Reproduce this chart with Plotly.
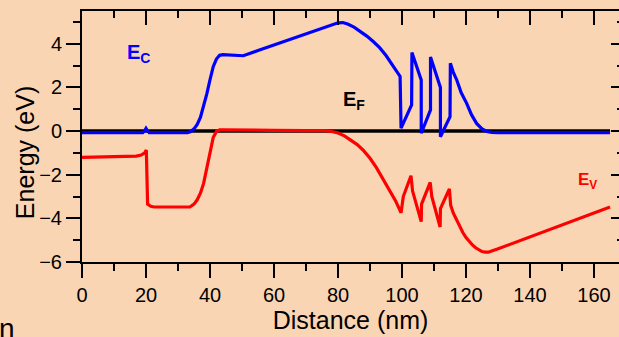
import plotly.graph_objects as go

# Conduction band E_C (nm, eV)
ec_x = [0, 19.0, 19.6, 20.0, 20.4, 21.0, 33.0, 34.0, 35.0, 36.0, 37.0, 38.0, 39.0, 40.0, 41.0, 42.0, 43.0, 44.0,
        50.0, 50.4, 55.0, 60.0, 65.0, 70.0, 75.0, 78.0, 80.0, 81.5, 83.0, 85.0, 87.0, 89.0, 91.0, 93.0, 95.0, 97.0,
        99.4, 99.7, 103.0, 103.1, 106.0, 106.0, 108.9, 108.9, 112.0, 112.0, 115.0, 115.1, 116.0, 117.1, 118.5,
        120.2, 121.7, 123.3, 125.0, 126.5, 128.0, 130.0, 165.0]
ec_y = [-0.07, -0.07, 0.02, 0.12, 0.02, -0.07, -0.07, -0.02, 0.1, 0.3, 0.62, 1.1, 1.7, 2.35, 2.95, 3.3, 3.47, 3.5,
        3.48, 3.45, 3.69, 3.95, 4.21, 4.47, 4.72, 4.88, 4.96, 4.97, 4.9, 4.76, 4.57, 4.35, 4.1, 3.82, 3.46, 3.05,
        2.5, 0.13, 1.2, 3.6, 2.34, -0.1, 0.97, 3.39, 2.0, -0.26, 0.66, 3.11, 2.7, 2.34, 1.75,
        1.27, 0.75, 0.35, 0.1, -0.02, -0.06, -0.07, -0.07]

# Valence band E_V (nm, eV)
ev_x = [0, 17.0, 18.5, 19.6, 20.1, 20.2, 20.5, 21.5, 22.5, 33.7, 35.0, 36.0, 37.0, 38.0, 39.0, 40.0, 41.0, 42.0,
        43.0, 44.0, 50.0, 60.0, 70.0, 76.0, 78.0, 80.0, 82.0, 84.0, 86.0, 88.0, 90.0, 92.0, 94.0, 96.0, 98.0,
        99.7, 100.4, 102.8, 103.3, 106.0, 106.1, 108.8, 109.3, 111.9, 112.0, 114.8, 115.2, 116.0, 117.0, 118.0,
        119.0, 120.0, 121.0, 122.0, 123.0, 124.0, 125.0, 126.0, 127.0, 128.0, 129.6, 165.0]
ev_y = [-1.21, -1.15, -1.1, -1.0, -0.87, -2.5, -3.35, -3.45, -3.48, -3.48, -3.35, -3.15, -2.85, -2.4, -1.68,
        -0.95, -0.3, -0.02, 0.05, 0.06, 0.04, 0.03, 0.02, 0.02, -0.02, -0.09, -0.22, -0.4, -0.62, -0.9, -1.25,
        -1.68, -2.18, -2.68, -3.2, -3.75, -3.0, -2.05, -2.75, -4.15, -3.35, -2.35, -3.0, -4.4, -3.55, -2.65,
        -3.4, -3.75, -4.08, -4.38, -4.65, -4.88, -5.06, -5.22, -5.35, -5.45, -5.52, -5.55, -5.55, -5.5, -5.42,
        -3.48]

# Fermi level
ef_x = [0, 165]
ef_y = [0, 0]

x_range = [0, 167.8]
y_range = [-6, 5.5]
BG = "#FAD5B4"
FONT = "Liberation Sans, Arial, sans-serif"

fig = go.Figure()
fig.add_trace(go.Scatter(x=ef_x, y=ef_y, mode="lines", line=dict(color="black", width=3.5),
                         showlegend=False, hoverinfo="skip"))
fig.add_trace(go.Scatter(x=ec_x, y=ec_y, mode="lines", line=dict(color="#0000FF", width=3.2),
                         showlegend=False))
fig.add_trace(go.Scatter(x=ev_x, y=ev_y, mode="lines", line=dict(color="#FF0000", width=3.2),
                         showlegend=False))
fig.add_trace(go.Scatter(x=[None], y=[None], xaxis="x2", yaxis="y2", showlegend=False, hoverinfo="skip"))

common = dict(showgrid=False, zeroline=False, linecolor="black", linewidth=2, tickcolor="black", tickwidth=2)

fig.update_layout(
    width=619, height=337,
    margin=dict(l=82, r=0, t=11, b=75),
    paper_bgcolor=BG, plot_bgcolor=BG,
    font=dict(family=FONT, color="black"),
    xaxis=dict(range=x_range, tickmode="linear", tick0=0, dtick=20, ticks="outside", ticklen=14,
               showline=True, tickfont=dict(size=20),
               minor=dict(dtick=10, tick0=0, ticks="outside", ticklen=7, tickwidth=2, tickcolor="black"),
               title=dict(text="Distance (nm)", font=dict(size=25), standoff=6), **common),
    yaxis=dict(range=y_range, tickmode="linear", tick0=0, dtick=2, ticks="outside", ticklen=14,
               showline=True, tickfont=dict(size=20),
               minor=dict(dtick=1, tick0=0, ticks="outside", ticklen=7, tickwidth=2, tickcolor="black"),
               **common),
    xaxis2=dict(range=x_range, overlaying="x", side="top", tickmode="linear", tick0=0, dtick=20,
                ticks="inside", ticklen=14, showline=True, showticklabels=False,
                minor=dict(dtick=10, tick0=0, ticks="inside", ticklen=7, tickwidth=2, tickcolor="black"),
                **common),
    yaxis2=dict(range=y_range, overlaying="y", side="right", tickmode="linear", tick0=0, dtick=2,
                ticks="inside", ticklen=8, showline=False, showticklabels=False,
                minor=dict(dtick=1, tick0=0, ticks="inside", ticklen=2, tickwidth=2, tickcolor="black"),
                **common),
    annotations=[
        dict(x=-0.106, y=0.434, xref="paper", yref="paper", xanchor="center", yanchor="middle",
             showarrow=False, textangle=-90, text="Energy (eV)",
             font=dict(size=25, color="black", family=FONT)),
        dict(x=13.3, y=3.55, xref="x", yref="y", xanchor="left", yanchor="middle", showarrow=False,
             text="<b>E<sub>C</sub></b>", font=dict(size=20, color="#0000FF", family=FONT)),
        dict(x=81.0, y=1.4, xref="x", yref="y", xanchor="left", yanchor="middle", showarrow=False,
             text="<b>E<sub>F</sub></b>", font=dict(size=20, color="black", family=FONT)),
        dict(x=154.3, y=-2.3, xref="x", yref="y", xanchor="left", yanchor="middle", showarrow=False,
             text="<b>E<sub>V</sub></b>", font=dict(size=17, color="#FF0000", family=FONT)),
        dict(x=-0.158, y=-0.265, xref="paper", yref="paper", xanchor="left", yanchor="middle",
             showarrow=False, text="n", font=dict(size=28, color="black", family=FONT)),
    ],
)

fig.write_html("out.html", config={"displayModeBar": False},
               post_script="document.body.style.margin='0';document.body.style.overflow='hidden';")
